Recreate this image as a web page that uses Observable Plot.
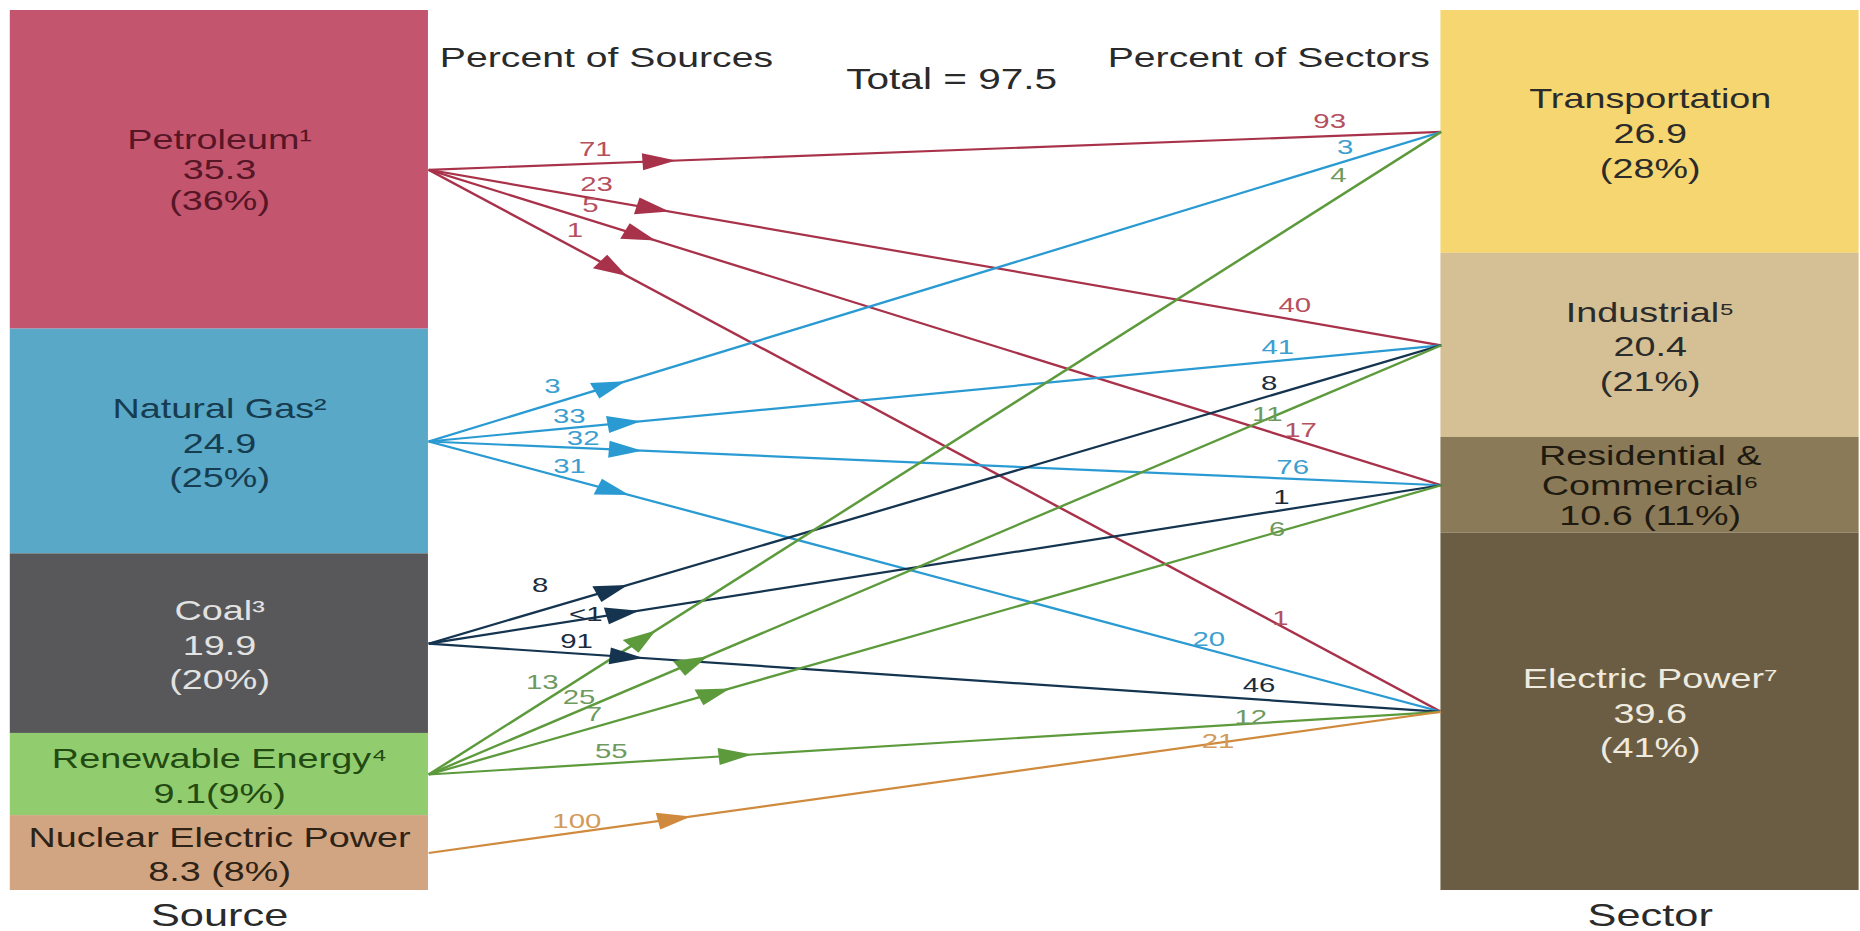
<!DOCTYPE html>
<html><head><meta charset="utf-8">
<script src="https://cdn.jsdelivr.net/npm/d3@7"></script>
<script src="https://cdn.jsdelivr.net/npm/@observablehq/plot@0.6"></script>
<style>html,body{margin:0;padding:0;background:#fff;} #chart svg{display:block;}</style>
</head><body><div id="chart"></div>
<script>
// ---------------- data ----------------
const sources = ["Petroleum", "Natural Gas", "Coal", "Renewable Energy", "Nuclear Electric Power"];
const sourceNotes = ["¹", "²", "³", "⁴", ""];
const sourceValues = [35.3, 24.9, 19.9, 9.1, 8.3];
const sourceShares = [36, 25, 20, 9, 8];

const sectors = ["Transportation", "Industrial", "Residential & Commercial", "Electric Power"];
const sectorNotes = ["", "⁵", "⁶", "⁷"];
const sectorValues = [26.9, 20.4, 10.6, 39.6];
const sectorShares = [28, 21, 11, 41];

const total = 97.5;

const flowSource = ["Petroleum", "Petroleum", "Petroleum", "Petroleum",
  "Natural Gas", "Natural Gas", "Natural Gas", "Natural Gas",
  "Coal", "Coal", "Coal",
  "Renewable Energy", "Renewable Energy", "Renewable Energy", "Renewable Energy",
  "Nuclear Electric Power"];
const flowSector = ["Transportation", "Industrial", "Residential & Commercial", "Electric Power",
  "Transportation", "Industrial", "Residential & Commercial", "Electric Power",
  "Industrial", "Residential & Commercial", "Electric Power",
  "Transportation", "Industrial", "Residential & Commercial", "Electric Power",
  "Electric Power"];
const pctOfSource = ["71", "23", "5", "1", "3", "33", "32", "31", "8", "<1", "91", "13", "25", "7", "55", "100"];
const pctOfSector = ["93", "40", "17", "1", "3", "41", "76", "20", "8", "1", "46", "4", "11", "6", "12", "21"];

// ---------------- styles ----------------
const blockFill = {
  "Petroleum": "#c3556e", "Natural Gas": "#5aa8c8", "Coal": "#58585a",
  "Renewable Energy": "#91cd6e", "Nuclear Electric Power": "#d2a582",
  "Transportation": "#f5d670", "Industrial": "#d4c094",
  "Residential & Commercial": "#8b7a58", "Electric Power": "#6b5d43"
};
const blockText = {
  "Petroleum": "#561626", "Natural Gas": "#163c50", "Coal": "#e2e2e2",
  "Renewable Energy": "#224a12", "Nuclear Electric Power": "#2e2316",
  "Transportation": "#2b2b2b", "Industrial": "#2b2b2b",
  "Residential & Commercial": "#1f1a10", "Electric Power": "#efeadf"
};
const lineColor = {
  "Petroleum": "#a8324a", "Natural Gas": "#2a9bd2", "Coal": "#14344f",
  "Renewable Energy": "#5c9a3c", "Nuclear Electric Power": "#d08a3e"
};
const labelColor = {
  "Petroleum": "#b5505f", "Natural Gas": "#3d9fd0", "Coal": "#1c2c3c",
  "Renewable Energy": "#6f9a5f", "Nuclear Electric Power": "#d49a5a"
};
// layout tweaks (pixels along / above each line)
const arrowAlong = {"Petroleum": 165, "Natural Gas": 141, "Coal": 142, "Renewable Energy": 220, "Nuclear Electric Power": 179};
const srcLabelAlong = {"Petroleum": 120, "Natural Gas": 103, "Coal": 105, "Renewable Energy": 132, "Nuclear Electric Power": 110};
const srcLabelOff = {"Petroleum": 14, "Natural Gas": 12, "Coal": 12, "Renewable Energy": 12, "Nuclear Electric Power": 11};
const srcLabelOverride = {
  "Coal>Industrial": [96, 24], "Coal>Residential & Commercial": [116, 5],
  "Natural Gas>Transportation": [103, 16],
  "Natural Gas>Residential & Commercial": [110, 10], "Renewable Energy>Transportation": [122, 15]
};
const secLabel = {
  "Petroleum>Transportation": [79, 15], "Natural Gas>Transportation": [69, 13], "Renewable Energy>Transportation": [84, 16],
  "Petroleum>Industrial": [111, 14], "Natural Gas>Industrial": [116, 13], "Coal>Industrial": [128, 12], "Renewable Energy>Industrial": [142, 4],
  "Petroleum>Residential & Commercial": [114, 10], "Natural Gas>Residential & Commercial": [107, 12],
  "Coal>Residential & Commercial": [114, 13], "Renewable Energy>Residential & Commercial": [125, 3],
  "Petroleum>Electric Power": [148, 6], "Natural Gas>Electric Power": [181, 10], "Coal>Electric Power": [132, 14],
  "Renewable Energy>Electric Power": [136, 6], "Nuclear Electric Power>Electric Power": [162, 2]
};

// ---------------- build ----------------
const W = 1329, H = 931, OUTW = 1860;
const barFrac = 0.413;
const xOpts = {domain: [-barFrac, 1 + barFrac], range: [7, 1328]};
const yOpts = {domain: [0, total], range: [10, 890]};
const xs = Plot.scale({x: xOpts});
const ys = Plot.scale({y: yOpts});

function stack(names, notes, values, shares, side) {
  let c = 0;
  return names.map((name, i) => {
    const y1 = c; c += values[i];
    return {name, note: notes[i], value: values[i], share: shares[i], y1, y2: c, mid: (y1 + c) / 2, side};
  });
}
const srcNodes = stack(sources, sourceNotes, sourceValues, sourceShares, 0);
const secNodes = stack(sectors, sectorNotes, sectorValues, sectorShares, 1);

function blockLabel(d) {
  const v = d.value.toFixed(1);
  if (d.name === "Renewable Energy") return `${d.name}${d.note}\n${v}(${d.share}%)`;
  if (d.name === "Nuclear Electric Power") return `${d.name}${d.note}\n${v} (${d.share}%)`;
  if (d.name === "Residential & Commercial") return `${d.name.replace("& ", "&\n")}${d.note}\n${v} (${d.share}%)`;
  return `${d.name}${d.note}\n${v}\n(${d.share}%)`;
}
const nodes = [...srcNodes, ...secNodes].map(d => ({
  ...d,
  x1: d.side === 0 ? -barFrac : 1,
  x2: d.side === 0 ? 0 : 1 + barFrac,
  cx: d.side === 0 ? -barFrac / 2 : 1 + barFrac / 2,
  label: blockLabel(d),
  tight: d.name === "Petroleum" || d.name === "Residential & Commercial"
}));

const flows = flowSource.map((s, i) => {
  const key = `${s}>${flowSector[i]}`;
  const src = srcNodes.find(d => d.name === s);
  const sec = secNodes.find(d => d.name === flowSector[i]);
  const p0 = [xs.apply(0), ys.apply(src.mid)];
  const p1 = [xs.apply(1), ys.apply(sec.mid)];
  const dx = p1[0] - p0[0], dy = p1[1] - p0[1];
  const L = Math.hypot(dx, dy);
  const u = [dx / L, dy / L];
  const up = [u[1], -u[0]];
  let da = arrowAlong[s];
  if (key === "Renewable Energy>Transportation") da = 205;
  const a = [p0[0] + u[0] * da, p0[1] + u[1] * da];
  const [la, lo] = srcLabelOverride[key] || [srcLabelAlong[s], srcLabelOff[s]];
  const ls = [p0[0] + u[0] * la + up[0] * lo, p0[1] + u[1] * la + up[1] * lo];
  const [back, off] = secLabel[key];
  const lt = [p1[0] - u[0] * back + up[0] * off, p1[1] - u[1] * back + up[1] * off];
  return {
    source: s, sector: flowSector[i], pctSrc: pctOfSource[i], pctSec: pctOfSector[i],
    xFrom: 0, xTo: 1, yFrom: src.mid, yTo: sec.mid,
    ax: xs.invert(a[0]), ay: ys.invert(a[1]),
    angle: Math.atan2(dx, -dy) * 180 / Math.PI,
    lsx: xs.invert(ls[0]), lsy: ys.invert(ls[1]),
    ltx: xs.invert(lt[0]), lty: ys.invert(lt[1]),
    stroke: lineColor[s], lab: labelColor[s]
  };
});

const headers = [
  {text: "Percent of Sources", x: 0, anchor: "start", dx: 8, dy: 37, size: 28},
  {text: `Total = ${total}`, x: 0.5, anchor: "middle", dx: 12, dy: 58, size: 29},
  {text: "Percent of Sectors", x: 1, anchor: "end", dx: -8, dy: 37, size: 28}
];
const footers = [
  {text: "Source", x: -barFrac / 2},
  {text: "Sector", x: 1 + barFrac / 2}
];

const triangle = {
  draw(context, l, r) {
    context.moveTo(0, -l);
    context.lineTo(r, 0);
    context.lineTo(-r, 0);
    context.closePath();
  }
};

const svg = Plot.plot({
  width: W, height: H,
  marginTop: 10, marginBottom: 41, marginLeft: 7, marginRight: 1,
  x: {...xOpts, axis: null},
  y: {...yOpts, axis: null},
  color: {type: "identity"},
  style: {fontFamily: "'Liberation Sans', Arial, sans-serif", background: "#fff"},
  marks: [
    Plot.rect(nodes, {x1: "x1", x2: "x2", y1: "y1", y2: "y2", fill: d => blockFill[d.name]}),
    Plot.text(nodes.filter(d => !d.tight), {x: "cx", y: "mid", text: "label", fill: d => blockText[d.name], fontSize: 27, lineHeight: 1.28}),
    Plot.text(nodes.filter(d => d.tight), {x: "cx", y: "mid", text: "label", fill: d => blockText[d.name], fontSize: 27, lineHeight: 1.12}),
    Plot.link(flows, {x1: "xFrom", x2: "xTo", y1: "yFrom", y2: "yTo", stroke: "stroke", strokeWidth: 2.2}),
    Plot.vector(flows, {x: "ax", y: "ay", rotate: "angle", length: 24, r: 8.5, anchor: "middle", shape: triangle, fill: "stroke", stroke: "none"}),
    Plot.text(flows, {x: "lsx", y: "lsy", text: "pctSrc", fill: "lab", fontSize: 21}),
    Plot.text(flows, {x: "ltx", y: "lty", text: "pctSec", fill: "lab", fontSize: 21}),
    ...headers.map(h => Plot.text([h], {x: "x", text: "text", frameAnchor: "top", textAnchor: h.anchor, dx: h.dx, dy: h.dy, fontSize: h.size, fill: "#2a2a2a"})),
    Plot.text(footers, {x: "x", text: "text", frameAnchor: "bottom", dy: 35, fontSize: 31, fill: "#2a2a2a"})
  ]
});

svg.setAttribute("width", OUTW);
svg.setAttribute("height", H);
svg.setAttribute("viewBox", `0 0 ${W} ${H}`);
svg.setAttribute("preserveAspectRatio", "none");
svg.style.maxWidth = "none";
svg.style.width = OUTW + "px";
svg.style.height = H + "px";
document.getElementById("chart").appendChild(svg);
</script>
</body></html>
